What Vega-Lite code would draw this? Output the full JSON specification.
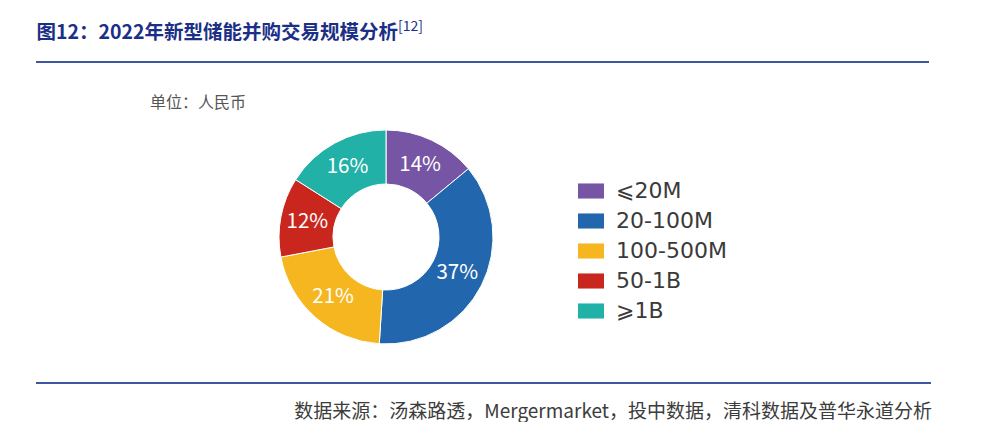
{
  "$schema": "https://vega.github.io/schema/vega-lite/v6.json",
  "background": "white",
  "padding": {"left": 35, "top": 15, "right": 0, "bottom": 0},
  "bounds": "flush",
  "spacing": 29,
  "config": {
    "view": {"stroke": null},
    "font": "Noto Sans CJK SC",
    "title": {"font": "Noto Sans CJK SC"}
  },
  "datasets": {
    "share": [
      {"range": "⩽20M", "share": 0.14, "rank": 1},
      {"range": "20-100M", "share": 0.37, "rank": 2},
      {"range": "100-500M", "share": 0.21, "rank": 3},
      {"range": "50-1B", "share": 0.12, "rank": 4},
      {"range": "⩾1B", "share": 0.16, "rank": 5}
    ],
    "one": [{}]
  },
  "vconcat": [
    {
      "width": 893,
      "height": 47,
      "data": {"name": "one"},
      "title": {
        "text": "[12]",
        "anchor": "start",
        "orient": "top",
        "dx": 363,
        "dy": 19,
        "offset": 0,
        "fontSize": 14,
        "fontWeight": "normal",
        "color": "#1B2F86"
      },
      "mark": {"type": "rule", "color": "#3F57A0", "strokeWidth": 2},
      "encoding": {
        "y": {
          "datum": 0,
          "type": "quantitative",
          "scale": {"domain": [0, 1]},
          "axis": {
            "title": "图12：2022年新型储能并购交易规模分析",
            "titleAngle": 0,
            "titleX": 0,
            "titleY": 23,
            "titleAlign": "left",
            "titleBaseline": "alphabetic",
            "titleFont": "Noto Sans CJK SC",
            "titleFontSize": 19.5,
            "titleFontWeight": "bold",
            "titleColor": "#1B2F86",
            "domain": false,
            "ticks": false,
            "labels": false,
            "grid": false
          }
        }
      }
    },
    {
      "bounds": "flush",
      "spacing": 0,
      "vconcat": [
        {
          "width": 700,
          "height": 292,
          "data": {"name": "share"},
          "title": {
            "text": "单位：人民币",
            "anchor": "start",
            "orient": "top",
            "dx": 114,
            "dy": 20,
            "offset": 0,
            "fontSize": 16,
            "fontWeight": "normal",
            "color": "#555555"
          },
          "encoding": {
            "theta": {"field": "share", "type": "quantitative", "stack": true},
            "order": {"field": "rank", "type": "quantitative", "sort": "ascending"}
          },
          "layer": [
            {
              "mark": {"type": "arc", "radius": 107, "radius2": 53, "stroke": "white", "strokeWidth": 1},
              "encoding": {
                "color": {
                  "field": "range",
                  "type": "nominal",
                  "scale": {
                    "domain": ["⩽20M", "20-100M", "100-500M", "50-1B", "⩾1B"],
                    "range": ["#7655A4", "#2267AD", "#F5B620", "#C9271E", "#21B1A6"]
                  },
                  "legend": {
                    "title": null,
                    "orient": "none",
                    "legendX": 542,
                    "legendY": 163,
                    "symbolType": "M-1,-0.58L1,-0.58L1,0.58L-1,0.58Z",
                    "symbolSize": 676,
                    "symbolStrokeWidth": 0,
                    "symbolOpacity": 1,
                    "labelFontSize": 22,
                    "labelFont": "DejaVu Sans",
                    "labelColor": "#3A3A3A",
                    "labelOffset": 12,
                    "labelLimit": 300,
                    "rowPadding": 6
                  }
                }
              }
            },
            {
              "mark": {"type": "text", "radius": 80, "color": "white", "fontSize": 20.5, "font": "Noto Sans CJK SC"},
              "encoding": {
                "text": {"field": "share", "type": "quantitative", "format": ".0%"},
                "detail": {"field": "range", "type": "nominal"}
              }
            }
          ]
        },
        {
          "width": 895,
          "height": 1,
          "data": {"name": "one"},
          "title": {
            "text": "数据来源：汤森路透，Mergermarket，投中数据，清科数据及普华永道分析",
            "anchor": "end",
            "orient": "bottom",
            "offset": 19,
            "fontSize": 19,
            "fontWeight": "normal",
            "color": "#3C3C3C"
          },
          "mark": {"type": "rule", "color": "#3F57A0", "strokeWidth": 2},
          "encoding": {
            "y": {"datum": 1, "type": "quantitative", "scale": {"domain": [0, 1]}, "axis": null}
          }
        }
      ]
    }
  ]
}
